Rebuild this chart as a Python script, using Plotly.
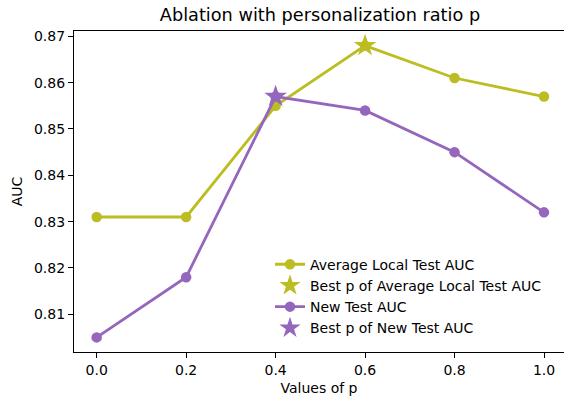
import plotly.graph_objects as go

p_values = [0.0, 0.2, 0.4, 0.6, 0.8, 1.0]
avg_local_auc = [0.831, 0.831, 0.855, 0.868, 0.861, 0.857]
new_test_auc = [0.805, 0.818, 0.857, 0.854, 0.845, 0.832]
best_avg_p = [0.6]
best_avg_auc = [0.868]
best_new_p = [0.4]
best_new_auc = [0.857]
y_ticks = [0.81, 0.82, 0.83, 0.84, 0.85, 0.86, 0.87]
x_ticks = [0.0, 0.2, 0.4, 0.6, 0.8, 1.0]

OLIVE = "#bcbd22"
PURPLE = "#9467bd"
FONT = "DejaVu Sans"

fig = go.Figure()
fig.add_trace(go.Scatter(x=p_values, y=avg_local_auc, mode="lines+markers",
                         name="Average Local Test AUC",
                         line=dict(color=OLIVE, width=2.8),
                         marker=dict(color=OLIVE, size=10.5, symbol="circle")))
fig.add_trace(go.Scatter(x=best_avg_p, y=best_avg_auc, mode="markers",
                         name="Best p of Average Local Test AUC",
                         marker=dict(color=OLIVE, size=17, symbol="star", line=dict(width=0))))
fig.add_trace(go.Scatter(x=p_values, y=new_test_auc, mode="lines+markers",
                         name="New Test AUC",
                         line=dict(color=PURPLE, width=2.8),
                         marker=dict(color=PURPLE, size=10.5, symbol="circle")))
fig.add_trace(go.Scatter(x=best_new_p, y=best_new_auc, mode="markers",
                         name="Best p of New Test AUC",
                         marker=dict(color=PURPLE, size=17, symbol="star", line=dict(width=0))))

fig.update_layout(
    width=564, height=398,
    margin=dict(l=74, r=0, t=31, b=46),
    paper_bgcolor="white", plot_bgcolor="white",
    font=dict(family=FONT, size=14, color="black"),
    title=dict(text="Ablation with personalization ratio p", x=320 / 564, xanchor="center",
               y=1 - 15 / 398, yanchor="middle", font=dict(size=17.7, family=FONT)),
    xaxis=dict(range=[-0.0507, 1.0447], tickvals=x_ticks, ticktext=[f"{v:.1f}" for v in x_ticks],
               showgrid=False, zeroline=False, showline=True, linecolor="black", linewidth=1.2,
               mirror=True, ticks="outside", ticklen=5, tickwidth=1.2, tickcolor="black",
               title=dict(text="Values of p", font=dict(size=14), standoff=6)),
    yaxis=dict(range=[0.80185, 0.87115], tickvals=y_ticks, ticktext=[f"{v:.2f}" for v in y_ticks],
               showgrid=False, zeroline=False, showline=True, linecolor="black", linewidth=1.2,
               ticks="outside", ticklen=5, tickwidth=1.2, tickcolor="black",
               title=dict(text="AUC", font=dict(size=14), standoff=8)),
    legend=dict(x=0.40, y=0.322, xanchor="left", yanchor="top", bgcolor="rgba(0,0,0,0)",
                font=dict(size=14, family=FONT), tracegroupgap=1, itemwidth=30),
    showlegend=True,
)

fig.write_html("out.html", config={"displayModeBar": False},
               post_script="document.body.style.margin='0';document.body.style.padding='0';document.body.style.overflow='hidden';")
